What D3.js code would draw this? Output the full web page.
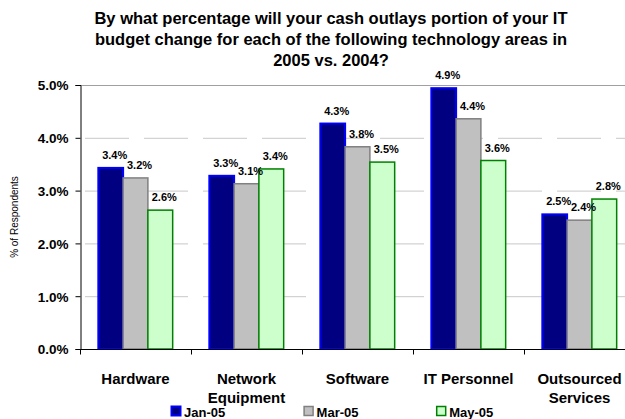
<!DOCTYPE html>
<meta charset="utf-8">
<style>
body { margin: 0; background: #fff; }
text { font-family: Arial, "Liberation Sans", sans-serif; }
.grid line { stroke: #c8c8c8; stroke-width: 1px; stroke-dasharray: 44,15; }
.value { font-size: 11px; font-weight: bold; }
.ytick { font-size: 13.5px; font-weight: bold; }
.cat { font-size: 15px; font-weight: bold; }
.legend text { font-size: 13px; font-weight: bold; }
</style>
<svg width="625" height="419"></svg>
<script src="https://d3js.org/d3.v7.min.js"></script>
<script>

var categories = ["Hardware", "Network|Equipment", "Software", "IT Personnel", "Outsourced|Services"];
var series = ["Jan-05", "Mar-05", "May-05"];
var jan = [3.43, 3.28, 4.27, 4.94, 2.55];
var mar = [3.24, 3.13, 3.83, 4.36, 2.44];
var may = [2.63, 3.41, 3.54, 3.57, 2.84];
var yTicks = [0, 1, 2, 3, 4, 5];
var titleLines = [
  "By what percentage will your cash outlays portion of your IT",
  "budget change for each of the following technology areas in",
  "2005 vs. 2004?"
];

var fills = ["#000080", "#c0c0c0", "#ccffcc"];
var strokes = ["#0000ff", "#808080", "#008000"];
var strokeW = [2, 1.5, 1.5];

var svg = d3.select("svg");

var x0 = d3.scaleBand().domain(categories).range([80, 635]);
var x1 = d3.scaleBand().domain(series).range([0, x0.bandwidth()]).paddingOuter(0.74);
var y = d3.scaleLinear().domain([0, 5]).range([349, 85]);

// title
svg.append("g").selectAll("text")
  .data(titleLines)
  .enter().append("text")
    .attr("x", 331)
    .attr("y", function(d, i) { return 24 + i * 21; })
    .attr("text-anchor", "middle")
    .style("font-size", "16.5px")
    .style("font-weight", "bold")
    .text(function(d) { return d; });

// gridlines
svg.append("g").attr("class", "grid")
  .selectAll("line")
  .data(yTicks.slice(1, 5))
  .enter().append("line")
    .attr("x1", 85).attr("x2", 625)
    .attr("y1", function(d) { return y(d) + 0.5; })
    .attr("y2", function(d) { return y(d) + 0.5; });

svg.append("line")
  .attr("x1", 80).attr("x2", 625)
  .attr("y1", y(5) + 0.5).attr("y2", y(5) + 0.5)
  .attr("stroke", "#a0a0a0");

// bars
var data = categories.map(function(c, i) {
  return { cat: c, vals: [jan[i], mar[i], may[i]] };
});

var groups = svg.append("g").selectAll("g")
  .data(data)
  .enter().append("g")
    .attr("transform", function(d) { return "translate(" + x0(d.cat) + ",0)"; });

groups.selectAll("rect")
  .data(function(d) { return d.vals.map(function(v, j) { return { s: series[j], v: v, j: j }; }); })
  .enter().append("rect")
    .attr("x", function(d) { return x1(d.s); })
    .attr("y", function(d) { return y(d.v); })
    .attr("width", x1.bandwidth())
    .attr("height", function(d) { return y(0) - y(d.v); })
    .attr("fill", function(d) { return fills[d.j]; })
    .attr("stroke", function(d) { return strokes[d.j]; })
    .attr("stroke-width", function(d) { return strokeW[d.j]; });

groups.selectAll("text")
  .data(function(d) { return d.vals.map(function(v, j) { return { s: series[j], v: v }; }); })
  .enter().append("text")
    .attr("class", "value")
    .attr("x", function(d) { return x1(d.s) + x1.bandwidth() / 2 + 4; })
    .attr("y", function(d) { return y(d.v) - 9; })
    .attr("text-anchor", "middle")
    .text(function(d) { return d.v.toFixed(1) + "%"; });

// y axis
var yAxis = svg.append("g")
  .attr("transform", "translate(80.5,0)")
  .call(d3.axisLeft(y).tickValues(yTicks).tickSize(5).tickPadding(7)
    .tickFormat(function(d) { return d.toFixed(1) + "%"; }));
yAxis.select(".domain").attr("stroke", "#000");
yAxis.selectAll(".tick text").attr("class", "ytick").attr("fill", "#000").attr("dy", "0.36em");

// x axis
var xAxis = svg.append("g").attr("transform", "translate(0," + (y(0) + 0.5) + ")");
xAxis.append("line").attr("x1", 80).attr("x2", 625).attr("stroke", "#000");
xAxis.selectAll(".xt")
  .data(categories)
  .enter().append("line")
    .attr("x1", function(d) { return Math.round(x0(d)) + 0.5; })
    .attr("x2", function(d) { return Math.round(x0(d)) + 0.5; })
    .attr("y1", 0).attr("y2", 5)
    .attr("stroke", "#000");

var catText = svg.append("g").selectAll("text")
  .data(categories)
  .enter().append("text")
    .attr("class", "cat")
    .attr("text-anchor", "middle")
    .attr("x", function(d) { return x0(d) + x0.bandwidth() / 2; })
    .attr("y", 384);
catText.selectAll("tspan")
  .data(function(d) { return d.split("|"); })
  .enter().append("tspan")
    .attr("x", function() { return d3.select(this.parentNode).attr("x"); })
    .attr("dy", function(d, i) { return i ? 19 : 0; })
    .text(function(d) { return d; });

// y title
svg.append("text")
  .attr("transform", "translate(18,217) rotate(-90)")
  .attr("text-anchor", "middle")
  .style("font-size", "10px")
  .text("% of Respondents");

// legend
var legend = svg.append("g").attr("class", "legend")
  .selectAll("g")
  .data(series)
  .enter().append("g")
    .attr("transform", function(d, i) { return "translate(" + (171 + i * 132.6) + ",406)"; });
legend.append("rect")
  .attr("width", 9).attr("height", 9).attr("x", 0.5).attr("y", 0.5)
  .attr("fill", function(d, i) { return fills[i]; })
  .attr("stroke", function(d, i) { return strokes[i]; })
  .attr("stroke-width", function(d, i) { return strokeW[i]; });
legend.append("text")
  .attr("x", 13).attr("y", 11)
  .text(function(d) { return d; });

</script>
